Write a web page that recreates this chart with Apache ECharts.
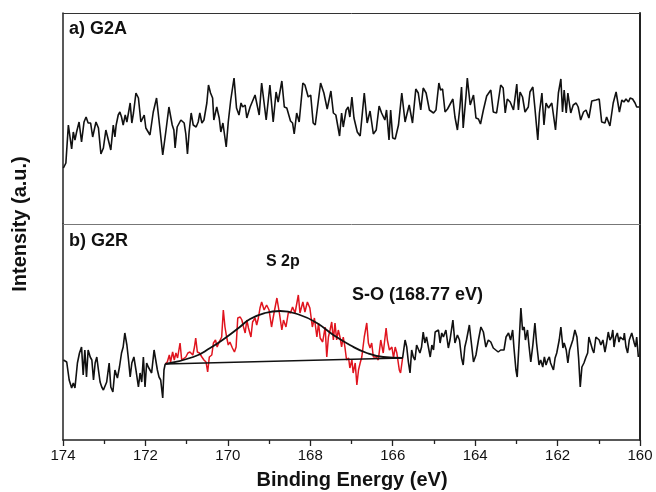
<!DOCTYPE html>
<html>
<head>
<meta charset="utf-8">
<script src="https://cdn.jsdelivr.net/npm/echarts@6/dist/echarts.min.js"></script>
<style>
html,body{margin:0;padding:0;background:#fff;}
#chart{width:656px;height:492px;}
</style>
</head>
<body>
<div id="chart"></div>
<script>
// Binding energy (eV) / intensity (a.u.) pairs
const xTicks = [174, 172, 170, 168, 166, 164, 162, 160];

const topSpectrum = [[173.99,56],[173.93,61],[173.87,99],[173.83,101],[173.79,75],[173.75,92],[173.71,84],[173.67,92],[173.61,102],[173.55,82],[173.49,102],[173.44,107],[173.39,101],[173.33,101],[173.28,87],[173.24,87],[173.20,102],[173.14,96],[173.08,70],[173.02,76],[172.96,94],[172.92,93],[172.84,74],[172.78,99],[172.74,87],[172.71,99],[172.66,109],[172.62,112],[172.58,107],[172.54,99],[172.49,109],[172.45,102],[172.37,121],[172.33,101],[172.29,111],[172.23,131],[172.17,126],[172.11,102],[172.07,104],[172.03,109],[171.99,96],[171.95,94],[171.89,89],[171.81,112],[171.73,126],[171.65,96],[171.58,69],[171.50,94],[171.43,117],[171.35,99],[171.31,94],[171.28,76],[171.23,97],[171.14,104],[171.06,101],[171.02,90],[170.98,70],[170.94,92],[170.89,111],[170.84,99],[170.77,97],[170.72,102],[170.68,111],[170.63,101],[170.58,104],[170.51,121],[170.47,139],[170.42,131],[170.37,126],[170.34,104],[170.27,117],[170.21,106],[170.17,92],[170.12,101],[170.04,77],[169.99,102],[169.93,124],[169.90,126],[169.85,146],[169.79,116],[169.73,109],[169.68,121],[169.64,117],[169.58,119],[169.54,106],[169.46,117],[169.34,129],[169.24,109],
[169.18,141],[169.07,104],[168.98,139],[168.90,102],[168.83,132],[168.78,122],[168.69,143],[168.63,117],[168.57,116],[168.48,103],[168.43,101],[168.39,90],[168.33,111],[168.27,102],[168.18,141],[168.13,139],[168.05,127],[167.99,129],[167.93,101],[167.88,99],[167.75,141],[167.67,131],[167.59,115],[167.50,133],[167.44,111],[167.38,109],[167.29,88],[167.24,111],[167.20,97],[167.13,114],[167.08,117],[167.04,107],[166.99,127],[166.94,106],[166.86,92],[166.79,88],[166.69,131],[166.62,101],[166.55,113],[166.47,90],[166.40,94],[166.33,118],[166.27,111],[166.19,104],[166.15,114],[166.09,84],[166.05,114],[166.00,86],[165.94,85],[165.86,99],[165.78,131],[165.70,102],[165.66,109],[165.60,119],[165.52,101],[165.44,135],[165.38,131],[165.32,114],[165.26,136],[165.19,131],[165.11,114],[165.01,111],[164.95,114],[164.88,141],[164.84,134],[164.79,135],[164.73,112],[164.67,115],
[164.54,125],[164.49,107],[164.43,94],[164.37,117],[164.33,137],[164.29,96],[164.22,129],[164.19,146],[164.12,119],[164.04,129],[163.98,106],[163.92,105],[163.87,100],[163.80,114],[163.72,128],[163.62,134],[163.56,112],[163.48,111],[163.38,139],[163.32,136],[163.27,111],[163.22,125],[163.15,122],[163.07,114],[162.99,140],[162.95,114],[162.91,132],[162.85,127],[162.79,112],[162.71,117],[162.67,132],[162.60,137],[162.55,116],[162.48,84],[162.44,111],[162.38,131],[162.33,99],[162.28,121],[162.22,116],[162.14,121],[162.05,94],[161.98,131],[161.92,145],[161.88,112],[161.84,134],[161.79,111],[161.75,131],[161.68,111],[161.62,119],[161.55,121],[161.50,117],[161.44,104],[161.37,112],[161.31,114],[161.24,106],[161.17,123],[161.07,124],[160.99,125],[160.93,102],[160.85,101],[160.81,107],[160.73,98],[160.65,121],[160.58,132],[160.50,112],[160.44,124],[160.39,122],[160.34,125],[160.28,122],[160.24,126],[160.18,125],[160.12,121],[160.08,117],[160.02,117]];

const bottomLeft = [[173.99,80],[173.91,78],[173.85,60],[173.79,52],[173.75,57],[173.71,52],[173.65,77],[173.60,87],[173.55,93],[173.51,65],[173.47,90],[173.43,63],[173.39,90],[173.34,83],[173.30,80],[173.26,60],[173.22,77],[173.18,83],[173.14,70],[173.10,58],[173.06,53],[173.02,50],[172.94,58],[172.88,77],[172.84,53],[172.79,48],[172.74,70],[172.68,62],[172.63,73],[172.58,87],[172.54,93],[172.50,107],[172.45,95],[172.41,80],[172.37,63],[172.33,77],[172.28,83],[172.23,70],[172.17,53],[172.13,67],[172.09,58],[172.05,83],[172.01,53],[171.97,77],[171.93,73],[171.85,67],[171.79,90],[171.75,80],[171.71,70],[171.67,63],[171.63,60],[171.58,42],[171.55,70],[171.52,76]];

const peakRegion = [[171.52,76],[171.47,78],[171.42,85],[171.39,78],[171.34,88],[171.30,80],[171.26,87],[171.22,82],[171.16,97],[171.12,80],[171.08,82],[171.02,83],[170.97,87],[170.92,88],[170.85,85],[170.81,93],[170.78,102],[170.74,88],[170.69,87],[170.63,83],[170.58,80],[170.53,78],[170.49,68],[170.45,83],[170.39,85],[170.35,97],[170.30,100],[170.26,93],[170.21,98],[170.15,103],[170.11,130],[170.07,113],[170.03,103],[169.99,95],[169.95,98],[169.89,92],[169.84,88],[169.80,93],[169.76,122],[169.70,123],[169.66,120],[169.62,113],[169.58,107],[169.54,120],[169.50,112],[169.44,103],[169.40,118],[169.34,122],[169.30,115],[169.26,122],[169.22,132],[169.18,138],[169.12,130],[169.06,135],[169.00,130],[168.94,113],[168.88,127],[168.81,142],[168.75,127],[168.69,110],[168.65,120],[168.59,113],[168.53,128],[168.48,127],[168.43,133],[168.37,127],[168.29,145],[168.25,127],[168.18,138],[168.13,128],[168.07,138],[168.01,132],[167.95,113],[167.90,122],[167.84,103],[167.80,117],[167.76,102],[167.70,98],[167.64,113],[167.60,83],[167.56,103],[167.52,110],[167.48,118],[167.44,100],[167.40,117],[167.36,100],[167.32,110],[167.28,103],[167.24,93],[167.20,103],[167.16,93],[167.12,80],[167.07,82],[167.04,72],[166.99,80],[166.96,67],[166.91,77],[166.87,55],[166.83,70],[166.79,77],[166.75,83],[166.69,103],[166.63,117],[166.59,97],[166.55,92],[166.51,97],[166.47,83],[166.40,83],[166.35,80],[166.29,100],[166.23,87],[166.16,112],[166.13,100],[166.08,90],[166.02,93],[165.98,82],[165.94,93],[165.90,87],[165.84,70],[165.81,67],[165.76,82]];

const bottomRight = [[165.76,82],[165.70,100],[165.66,93],[165.62,78],[165.58,67],[165.54,90],[165.50,83],[165.46,80],[165.42,95],[165.38,93],[165.34,87],[165.30,93],[165.26,108],[165.22,97],[165.18,103],[165.09,83],[165.05,95],[165.01,90],[164.97,108],[164.93,110],[164.89,110],[164.85,97],[164.81,107],[164.77,103],[164.71,110],[164.65,92],[164.61,100],[164.54,120],[164.49,97],[164.43,105],[164.38,100],[164.33,82],[164.29,75],[164.25,93],[164.21,100],[164.14,115],[164.10,100],[164.04,78],[163.98,85],[163.92,100],[163.86,113],[163.80,108],[163.74,93],[163.68,100],[163.62,98],[163.56,92],[163.50,90],[163.44,88],[163.38,90],[163.30,90],[163.25,103],[163.19,107],[163.14,100],[163.09,110],[163.06,93],[163.01,70],[162.98,63],[162.93,100],[162.89,132],[162.85,110],[162.81,113],[162.78,100],[162.73,110],[162.69,93],[162.65,78],[162.60,95],[162.55,117],[162.51,97],[162.45,75],[162.41,80],[162.36,73],[162.32,83],[162.28,75],[162.24,80],[162.20,83],[162.17,77],[162.10,70],[162.06,82],[162.02,87],[161.96,100],[161.92,113],[161.87,92],[161.84,97],[161.79,90],[161.75,77],[161.71,90],[161.63,100],[161.58,110],[161.53,103],[161.49,82],[161.45,53],[161.41,73],[161.36,77],[161.31,83],[161.27,87],[161.24,103],[161.20,105],[161.15,90],[161.12,87],[161.07,103],[161.03,103],[160.99,100],[160.95,95],[160.90,100],[160.85,88],[160.81,97],[160.77,108],[160.73,100],[160.69,103],[160.66,110],[160.63,93],[160.59,103],[160.55,107],[160.51,98],[160.48,103],[160.44,105],[160.40,100],[160.38,107],[160.34,93],[160.30,87],[160.26,100],[160.20,107],[160.14,97],[160.11,93],[160.08,103],[160.04,83]];

const fitCurve = [[171.52,76],[170.84,83],[170.43,92],[170.03,103],[169.74,112],[169.46,121],[169.10,127],[168.73,129],[168.25,125],[167.84,117],[167.44,105],[167.04,95],[166.63,87],[166.23,83],[165.76,82]];
const fitBaseline = [[171.52,76],[165.76,82]];

const chart = echarts.init(document.getElementById('chart'), null, {renderer: 'canvas'});
const FONT = '"Liberation Sans", Arial, sans-serif';
const dark = '#222';

function frameX(grid, pos, color, width) {
  return {type:'value', gridIndex:grid, min:160, max:174, inverse:true, position:pos,
    axisLine:{show:true, onZero:false, lineStyle:{color:color, width:width}},
    axisTick:{show:false}, axisLabel:{show:false}, splitLine:{show:false}};
}
function frameY(grid, pos, max, color, width) {
  return {type:'value', gridIndex:grid, min:0, max:max, position:pos,
    axisLine:{show:true, onZero:false, lineStyle:{color:color, width:width}},
    axisTick:{show:false}, axisLabel:{show:false}, splitLine:{show:false}};
}

const lineBase = {type:'line', showSymbol:false, symbol:'none', animation:false, z:3};

chart.setOption({
  backgroundColor:'#fff',
  animation:false,
  grid:[
    {left:63, right:16, top:13, height:211},
    {left:63, right:16, top:224, height:216}
  ],
  xAxis:[
    frameX(0, 'top', '#333', 1),
    frameX(0, 'bottom', '#777', 1),
    {type:'value', gridIndex:1, min:160, max:174, interval:2, inverse:true, position:'bottom',
      axisLine:{show:true, onZero:false, lineStyle:{color:dark, width:1.5}},
      axisTick:{show:true, inside:false, length:6, lineStyle:{color:dark, width:1.3}},
      minorTick:{show:true, splitNumber:2, length:4, lineStyle:{color:dark, width:1.3}},
      axisLabel:{show:true, margin:8, fontSize:15, color:'#111', fontFamily:FONT,
        formatter: v => xTicks.indexOf(v) >= 0 ? String(v) : ''},
      splitLine:{show:false}}
  ],
  yAxis:[
    frameY(0, 'left', 211, dark, 1.5),
    frameY(0, 'right', 211, dark, 2),
    frameY(1, 'left', 216, dark, 1.5),
    frameY(1, 'right', 216, dark, 2)
  ],
  series:[
    Object.assign({}, lineBase, {name:'G2A', xAxisIndex:0, yAxisIndex:0, data:topSpectrum,
      lineStyle:{color:'#111', width:1.6}}),
    Object.assign({}, lineBase, {name:'G2R-left', xAxisIndex:2, yAxisIndex:2, data:bottomLeft,
      lineStyle:{color:'#111', width:1.6}}),
    Object.assign({}, lineBase, {name:'G2R-right', xAxisIndex:2, yAxisIndex:2, data:bottomRight,
      lineStyle:{color:'#111', width:1.6}}),
    Object.assign({}, lineBase, {name:'S 2p', xAxisIndex:2, yAxisIndex:2, data:peakRegion,
      lineStyle:{color:'#e0141e', width:1.5}}),
    Object.assign({}, lineBase, {name:'baseline', xAxisIndex:2, yAxisIndex:2, data:fitBaseline,
      lineStyle:{color:'#111', width:1.6}, z:4}),
    Object.assign({}, lineBase, {name:'fit', xAxisIndex:2, yAxisIndex:2, data:fitCurve, smooth:0.5,
      lineStyle:{color:'#111', width:1.8}, z:4})
  ],
  graphic:[
    {type:'text', left:69, top:20, style:{text:'a) G2A', fontSize:18, fontWeight:'bold', fontFamily:FONT, fill:'#111'}},
    {type:'text', left:69, top:232, style:{text:'b) G2R', fontSize:18, fontWeight:'bold', fontFamily:FONT, fill:'#111'}},
    {type:'text', left:266, top:254, style:{text:'S 2p', fontSize:16, fontWeight:'bold', fontFamily:FONT, fill:'#111'}},
    {type:'text', left:352, top:286, style:{text:'S-O (168.77 eV)', fontSize:18, fontWeight:'bold', fontFamily:FONT, fill:'#111'}},
    {type:'text', x:352, y:480, style:{text:'Binding Energy (eV)', fontSize:20, fontWeight:'bold', fontFamily:FONT, fill:'#111', align:'center', verticalAlign:'middle'}},
    {type:'text', x:20, y:224, rotation:Math.PI/2, style:{text:'Intensity (a.u.)', fontSize:20, fontWeight:'bold', fontFamily:FONT, fill:'#111', align:'center', verticalAlign:'middle'}}
  ]
});
</script>
</body>
</html>
